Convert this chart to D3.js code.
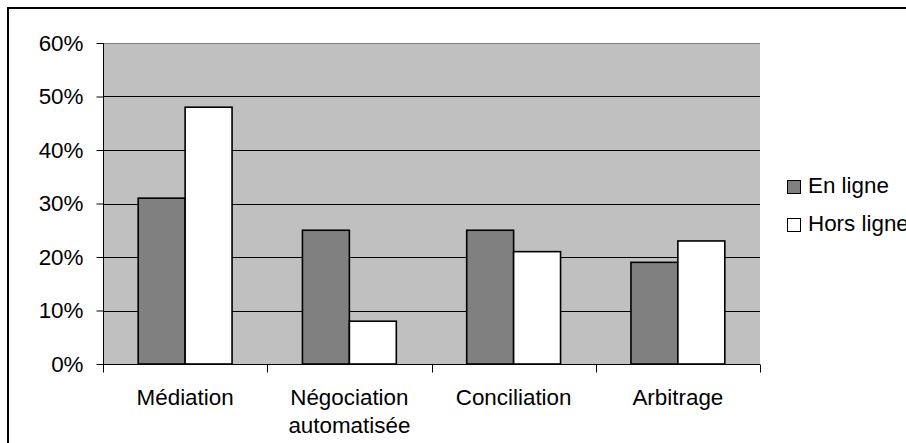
<!DOCTYPE html>
<html><head><meta charset="utf-8">
<script src="https://cdn.jsdelivr.net/npm/d3@7/dist/d3.min.js"></script>
<style>html,body{margin:0;padding:0;background:#fff;}svg{display:block;}</style>
</head><body>
<script>
const categories = [["Médiation"], ["Négociation", "automatisée"], ["Conciliation"], ["Arbitrage"]];
const seriesNames = ["En ligne", "Hors ligne"];
const enLigne = [31, 25, 25, 19];
const horsLigne = [48, 8, 21, 23];
const yTicks = [0, 10, 20, 30, 40, 50, 60];
const colors = ["#808080", "#ffffff"];

const W = 906, H = 443;
const FS = 22.4;
const plot = {left: 103, right: 760, top: 43, bottom: 364};
const svg = d3.select("body").append("svg").attr("width", W).attr("height", H);
svg.append("rect").attr("width", W).attr("height", H).attr("fill", "#fff");
// outer frame (extends beyond right/bottom edges)
svg.append("rect").attr("x", 8).attr("y", 8).attr("width", 930).attr("height", 470)
  .attr("fill", "none").attr("stroke", "#000").attr("stroke-width", 2);

const catKeys = categories.map(c => c.join(" "));
const x0 = d3.scaleBand().domain(catKeys).range([plot.left, plot.right]).padding(0);
const x1 = d3.scaleBand().domain(seriesNames).range([0, x0.bandwidth()]).paddingInner(0).paddingOuter(0.75);
const y = d3.scaleLinear().domain([0, 60]).range([plot.bottom, plot.top]);

svg.append("rect").attr("x", plot.left).attr("y", plot.top)
  .attr("width", plot.right - plot.left).attr("height", plot.bottom - plot.top).attr("fill", "#c0c0c0");

// gridlines
svg.append("g").selectAll("line").data(yTicks.filter(t => t > 0)).join("line")
  .attr("x1", plot.left).attr("x2", plot.right)
  .attr("y1", d => Math.round(y(d)) + 0.5).attr("y2", d => Math.round(y(d)) + 0.5)
  .attr("stroke", d => d === 60 ? "#808080" : "#000").attr("stroke-width", 1);

// bars
const data = catKeys.map((c, i) => ({c, vals: [enLigne[i], horsLigne[i]]}));
const g = svg.append("g").selectAll("g").data(data).join("g")
  .attr("transform", d => `translate(${x0(d.c)},0)`);
g.selectAll("rect").data(d => d.vals.map((v, j) => ({s: seriesNames[j], v, j}))).join("rect")
  .attr("x", d => x1(d.s)).attr("width", x1.bandwidth())
  .attr("y", d => y(d.v)).attr("height", d => y(0) - y(d.v))
  .attr("fill", d => colors[d.j]).attr("stroke", "#000").attr("stroke-width", 1.6);

// y axis
const yAxis = d3.axisLeft(y).tickValues(yTicks).tickFormat(d => d + "%").tickSize(7).tickPadding(13);
const ya = svg.append("g").attr("transform", `translate(${plot.left + 0.5},0)`).call(yAxis);
ya.select(".domain").attr("d", `M0,${plot.top}V${plot.bottom}`).attr("stroke", "#000");
ya.selectAll(".tick line").attr("stroke", "#000");
ya.selectAll("text").attr("font-family", "Liberation Sans, Arial, sans-serif").attr("font-size", FS).attr("fill", "#000");

// x axis
const xa = svg.append("g").attr("transform", `translate(0,${plot.bottom + 0.5})`);
xa.append("line").attr("x1", plot.left).attr("x2", plot.right).attr("stroke", "#000");
const bounds = catKeys.map(c => x0(c)).concat([plot.right]);
xa.selectAll("line.t").data(bounds).join("line").attr("class", "t")
  .attr("x1", d => Math.round(d) + 0.5).attr("x2", d => Math.round(d) + 0.5)
  .attr("y1", 0).attr("y2", 8).attr("stroke", "#000");
xa.selectAll("text").data(categories).join("text")
  .attr("x", (d, i) => x0(catKeys[i]) + x0.bandwidth() / 2)
  .attr("text-anchor", "middle")
  .attr("font-family", "Liberation Sans, Arial, sans-serif").attr("font-size", FS).attr("fill", "#000")
  .each(function(d) {
    d3.select(this).selectAll("tspan").data(d).join("tspan")
      .attr("x", d3.select(this).attr("x"))
      .attr("y", (t, k) => 40 + k * 28).text(t => t);
  });

// legend
const lg = svg.append("g").selectAll("g").data(seriesNames).join("g")
  .attr("transform", (d, i) => `translate(787,${180 + i * 38})`);
lg.append("rect").attr("x", 0.5).attr("y", 0.5).attr("width", 13).attr("height", 13)
  .attr("fill", (d, i) => colors[i]).attr("stroke", "#000").attr("stroke-width", 1);
lg.append("text").attr("x", 21).attr("y", 13).text(d => d)
  .attr("font-family", "Liberation Sans, Arial, sans-serif").attr("font-size", FS).attr("fill", "#000");
</script>
</body></html>
